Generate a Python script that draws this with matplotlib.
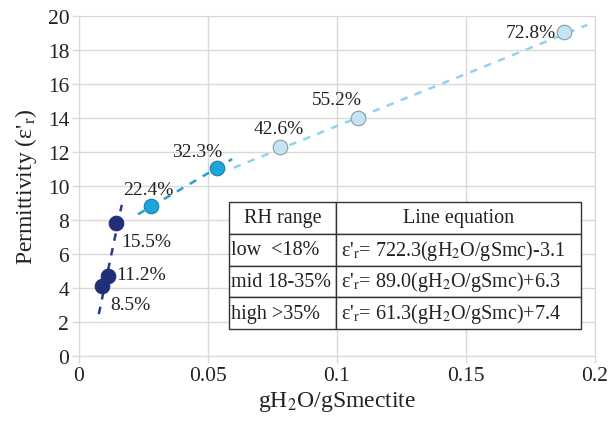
import matplotlib
matplotlib.use("Agg")
import matplotlib.pyplot as plt
import numpy as np

plt.rcParams['font.family'] = ['Liberation Serif', 'DejaVu Serif']
plt.rcParams['mathtext.fontset'] = 'stix'

# data
rh_labels = ["8.5%", "11.2%", "15.5%", "22.4%", "32.3%", "42.6%", "55.2%", "72.8%"]
x_vals = [0.0088, 0.0111, 0.0142, 0.0279, 0.0534, 0.0779, 0.108, 0.188]
y_vals = [4.1, 4.7, 7.8, 8.8, 11.05, 12.3, 14.0, 19.05]
groups = ["low", "low", "low", "mid", "mid", "high", "high", "high"]

fit_slopes = {"low": 722.3, "mid": 89.0, "high": 61.3}
fit_intercepts = {"low": -3.1, "mid": 6.3, "high": 7.4}
fit_ranges = {"low": (0.0077, 0.0166), "mid": (0.0229, 0.0594), "high": (0.060, 0.197)}

table_rows = [["RH range", "Line equation"],
              ["low  <18%", "ε'$_\\mathrm{r}$= 722.3(gH$_2$O/gSmc)-3.1"],
              ["mid 18-35%", "ε'$_\\mathrm{r}$= 89.0(gH$_2$O/gSmc)+6.3"],
              ["high >35%", "ε'$_\\mathrm{r}$= 61.3(gH$_2$O/gSmc)+7.4"]]

face = {"low": "#1f2f7a", "mid": "#1ea6dc", "high": "#c4e5f6"}
edge = {"low": "#1f2f7a", "mid": "#1a7fab", "high": "#8a9aa5"}
linec = {"low": "#2a3a8c", "mid": "#2a9fd0", "high": "#8fd3f0"}

fig = plt.figure(figsize=(6.12, 4.27), dpi=100)
ax = fig.add_axes([0.129, 0.164, 0.843, 0.796])

for g in ["low", "mid", "high"]:
    x0, x1 = fit_ranges[g]
    xs = np.array([x0, x1])
    ax.plot(xs, fit_slopes[g] * xs + fit_intercepts[g], ls=(0, (3, 3)), color=linec[g], lw=1.8, zorder=2)

for x, y, g in zip(x_vals, y_vals, groups):
    ax.scatter([x], [y], s=110, facecolor=face[g], edgecolor=edge[g], lw=0.8, zorder=3)

offsets = {"8.5%": (6, -13), "11.2%": (6, 1), "15.5%": (4, -13), "22.4%": (-2, 12),
           "32.3%": (4, 12), "42.6%": (-1, 13), "55.2%": (3, 13), "72.8%": (-6, 0)}
ha_map = {"8.5%": "left", "11.2%": "left", "15.5%": "left", "22.4%": "center",
          "32.3%": "right", "42.6%": "center", "55.2%": "right", "72.8%": "right"}
for lab, x, y in zip(rh_labels, x_vals, y_vals):
    dx, dy = offsets[lab]
    ax.annotate(lab, (x, y), xytext=(dx, dy), textcoords="offset points",
                ha=ha_map[lab], va="center", fontsize=14, color="#222222", zorder=4)

ax.set_xlim(0, 0.2)
ax.set_ylim(0, 20)
ax.set_xticks([0, 0.05, 0.1, 0.15, 0.2])
ax.set_xticklabels(["0", "0.05", "0.1", "0.15", "0.2"])
ax.set_yticks(range(0, 21, 2))
ax.grid(True, color="#d9d9d9", lw=1)
ax.set_axisbelow(True)
for s in ax.spines.values():
    s.set_color("#d9d9d9")
ax.tick_params(colors="#d9d9d9", labelcolor="#222222", labelsize=15.5, length=5, width=1, pad=2)
ax.set_xlabel("gH$_2$O/gSmectite", fontsize=17, color="#222222", labelpad=3)
ax.set_ylabel("Permittivity (ε'$_\\mathrm{r}$)", fontsize=17, color="#222222", labelpad=6)

tb = ax.table(cellText=table_rows, bbox=[0.291, 0.079, 0.682, 0.374],
              colWidths=[0.304, 0.696], cellLoc="left")
tb.auto_set_font_size(False)
tb.set_fontsize(14.5)
for (r, c), cell in tb.get_celld().items():
    cell.set_edgecolor("#333333")
    cell.set_linewidth(1.0)
    cell.set_facecolor("white")
    cell.PAD = 0.02
    if r == 0:
        cell.get_text().set_ha("center")
        cell._loc = "center"
    cell.get_text().set_color("#222222")
tb.set_zorder(5)

fig.savefig("out.png", dpi=100)
